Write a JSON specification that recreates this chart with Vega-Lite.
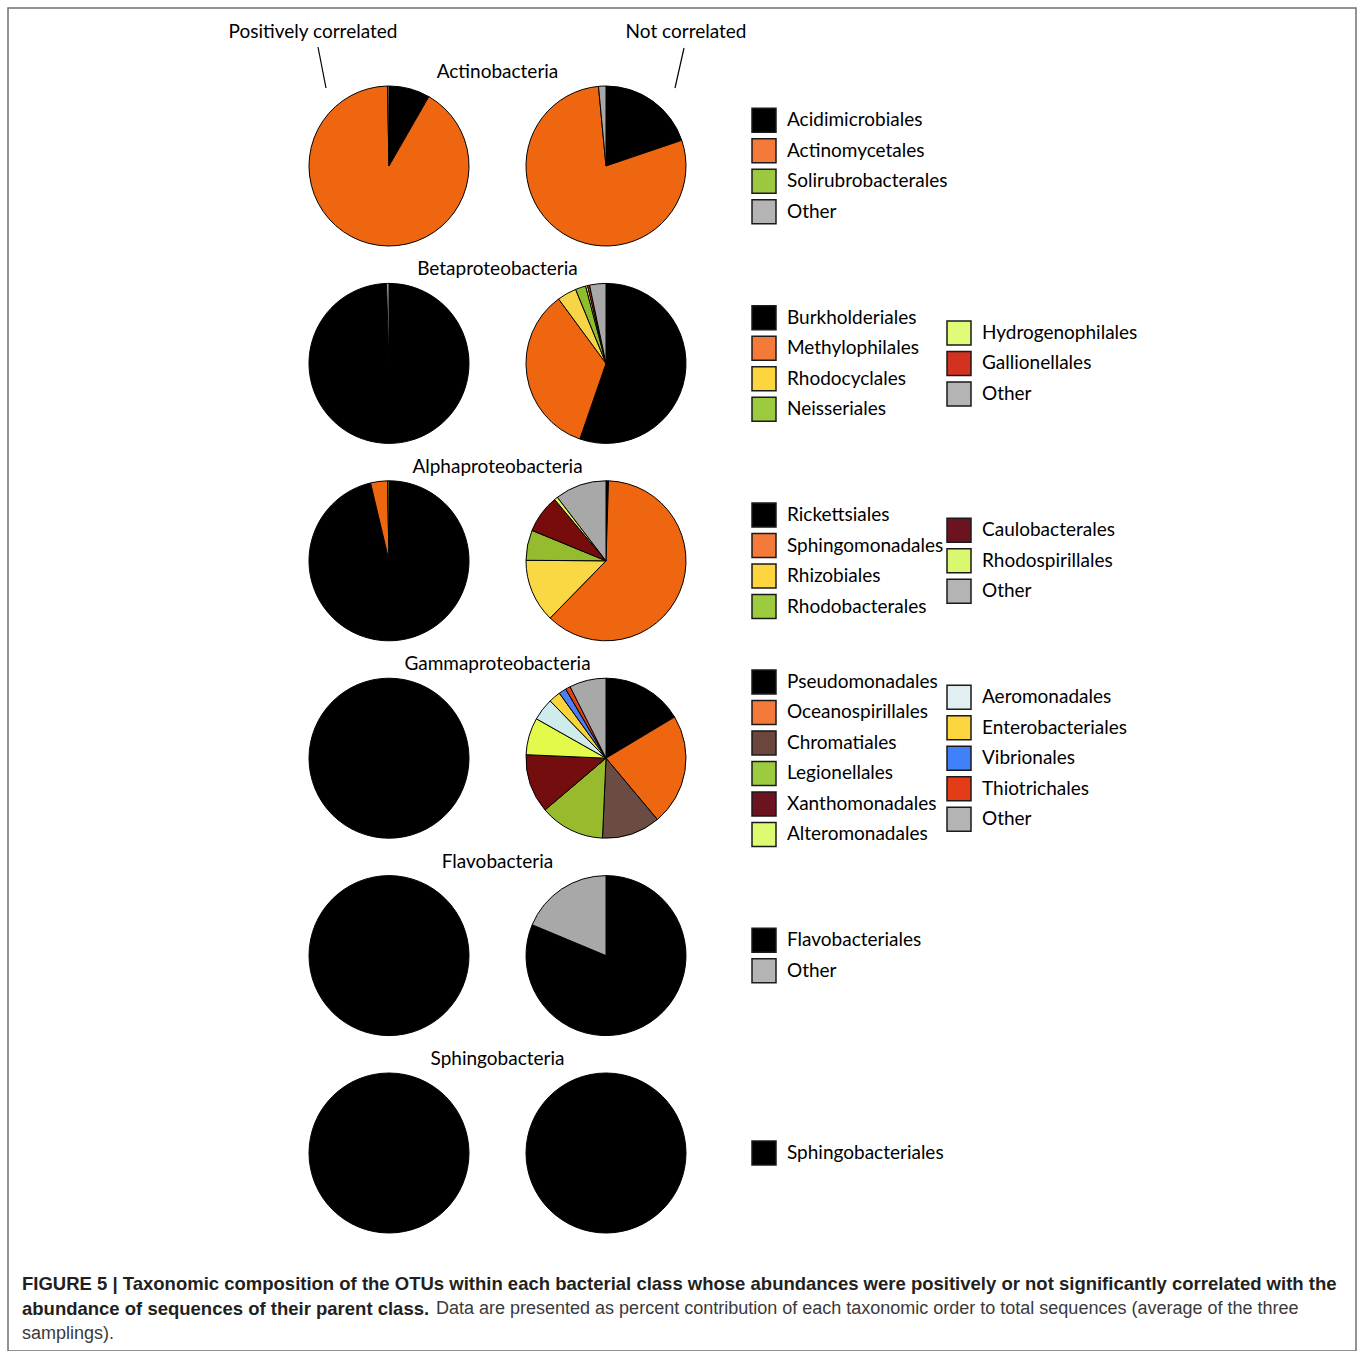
{
  "$schema": "https://vega.github.io/schema/vega-lite/v6.json",
  "width": 1360,
  "height": 1351,
  "autosize": {"type": "fit", "contains": "padding"},
  "padding": {"left": 8, "top": 8, "right": 4, "bottom": 0},
  "background": "white",
  "config": {
    "view": {"stroke": "#707070", "strokeWidth": 1.5},
    "font": "Lato",
    "axis": {"disable": true}
  },
  "datasets": {
    "slices": [
      {"cls": "Actinobacteria", "corr": "Positively correlated", "order": "Acidimicrobiales", "pct": 8.3},
      {"cls": "Actinobacteria", "corr": "Positively correlated", "order": "Actinomycetales", "pct": 91.4},
      {"cls": "Actinobacteria", "corr": "Positively correlated", "order": "Solirubrobacterales", "pct": 0},
      {"cls": "Actinobacteria", "corr": "Positively correlated", "order": "Other", "pct": 0.3},
      {"cls": "Actinobacteria", "corr": "Not correlated", "order": "Acidimicrobiales", "pct": 19.8},
      {"cls": "Actinobacteria", "corr": "Not correlated", "order": "Actinomycetales", "pct": 78.7},
      {"cls": "Actinobacteria", "corr": "Not correlated", "order": "Solirubrobacterales", "pct": 0},
      {"cls": "Actinobacteria", "corr": "Not correlated", "order": "Other", "pct": 1.5},
      {"cls": "Betaproteobacteria", "corr": "Positively correlated", "order": "Burkholderiales", "pct": 99.5},
      {"cls": "Betaproteobacteria", "corr": "Positively correlated", "order": "Other", "pct": 0.5},
      {"cls": "Betaproteobacteria", "corr": "Not correlated", "order": "Burkholderiales", "pct": 55.3},
      {"cls": "Betaproteobacteria", "corr": "Not correlated", "order": "Methylophilales", "pct": 34.6},
      {"cls": "Betaproteobacteria", "corr": "Not correlated", "order": "Rhodocyclales", "pct": 3.9},
      {"cls": "Betaproteobacteria", "corr": "Not correlated", "order": "Neisseriales", "pct": 2.1},
      {"cls": "Betaproteobacteria", "corr": "Not correlated", "order": "Hydrogenophilales", "pct": 0.4},
      {"cls": "Betaproteobacteria", "corr": "Not correlated", "order": "Gallionellales", "pct": 0.4},
      {"cls": "Betaproteobacteria", "corr": "Not correlated", "order": "Other", "pct": 3.3},
      {"cls": "Alphaproteobacteria", "corr": "Positively correlated", "order": "Rickettsiales", "pct": 96.3},
      {"cls": "Alphaproteobacteria", "corr": "Positively correlated", "order": "Sphingomonadales", "pct": 3.4},
      {"cls": "Alphaproteobacteria", "corr": "Positively correlated", "order": "Rhodobacterales", "pct": 0.3},
      {"cls": "Alphaproteobacteria", "corr": "Not correlated", "order": "Rickettsiales", "pct": 0.5},
      {"cls": "Alphaproteobacteria", "corr": "Not correlated", "order": "Sphingomonadales", "pct": 61.8},
      {"cls": "Alphaproteobacteria", "corr": "Not correlated", "order": "Rhizobiales", "pct": 12.8},
      {"cls": "Alphaproteobacteria", "corr": "Not correlated", "order": "Rhodobacterales", "pct": 6.1},
      {"cls": "Alphaproteobacteria", "corr": "Not correlated", "order": "Caulobacterales", "pct": 7.7},
      {"cls": "Alphaproteobacteria", "corr": "Not correlated", "order": "Rhodospirillales", "pct": 0.7},
      {"cls": "Alphaproteobacteria", "corr": "Not correlated", "order": "Other", "pct": 10.4},
      {"cls": "Gammaproteobacteria", "corr": "Positively correlated", "order": "Pseudomonadales", "pct": 100},
      {"cls": "Gammaproteobacteria", "corr": "Not correlated", "order": "Pseudomonadales", "pct": 16.4},
      {"cls": "Gammaproteobacteria", "corr": "Not correlated", "order": "Oceanospirillales", "pct": 22.5},
      {"cls": "Gammaproteobacteria", "corr": "Not correlated", "order": "Chromatiales", "pct": 11.8},
      {"cls": "Gammaproteobacteria", "corr": "Not correlated", "order": "Legionellales", "pct": 13.1},
      {"cls": "Gammaproteobacteria", "corr": "Not correlated", "order": "Xanthomonadales", "pct": 11.9},
      {"cls": "Gammaproteobacteria", "corr": "Not correlated", "order": "Alteromonadales", "pct": 7.5},
      {"cls": "Gammaproteobacteria", "corr": "Not correlated", "order": "Aeromonadales", "pct": 4.5},
      {"cls": "Gammaproteobacteria", "corr": "Not correlated", "order": "Enterobacteriales", "pct": 2.4},
      {"cls": "Gammaproteobacteria", "corr": "Not correlated", "order": "Vibrionales", "pct": 1.5},
      {"cls": "Gammaproteobacteria", "corr": "Not correlated", "order": "Thiotrichales", "pct": 1.0},
      {"cls": "Gammaproteobacteria", "corr": "Not correlated", "order": "Other", "pct": 7.4},
      {"cls": "Flavobacteria", "corr": "Positively correlated", "order": "Flavobacteriales", "pct": 100},
      {"cls": "Flavobacteria", "corr": "Not correlated", "order": "Flavobacteriales", "pct": 81.3},
      {"cls": "Flavobacteria", "corr": "Not correlated", "order": "Other", "pct": 18.7},
      {"cls": "Sphingobacteria", "corr": "Positively correlated", "order": "Sphingobacteriales", "pct": 100},
      {"cls": "Sphingobacteria", "corr": "Not correlated", "order": "Sphingobacteriales", "pct": 100}
    ],
    "classes": [
      {"cls": "Actinobacteria"},
      {"cls": "Betaproteobacteria"},
      {"cls": "Alphaproteobacteria"},
      {"cls": "Gammaproteobacteria"},
      {"cls": "Flavobacteria"},
      {"cls": "Sphingobacteria"}
    ],
    "headers": [
      {"corr": "Positively correlated"},
      {"corr": "Not correlated"}
    ],
    "caption": [
      {"line": 1, "seg": 1, "kind": "heading", "text": "FIGURE 5 | Taxonomic composition of the OTUs within each bacterial class whose abundances were positively or not significantly correlated with the"},
      {"line": 2, "seg": 1, "kind": "heading", "text": "abundance of sequences of their parent class."},
      {"line": 2, "seg": 2, "kind": "body", "text": "Data are presented as percent contribution of each taxonomic order to total sequences (average of the three"},
      {"line": 3, "seg": 1, "kind": "body", "text": "samplings)."}
    ]
  },
  "layer": [
    {
      "layer": [
        {
          "data": {"name": "slices"},
          "transform": [
            {"window": [{"op": "row_number", "as": "k"}], "groupby": ["cls", "corr"]},
            {"filter": "datum.pct > 0"},
            {"stack": "pct", "groupby": ["cls", "corr"], "sort": [{"field": "k", "order": "ascending"}], "as": ["t0", "t1"], "offset": "zero"}
          ],
          "mark": {"type": "arc", "radius": 80, "stroke": "#000000", "strokeWidth": 1},
          "encoding": {
            "x": {"field": "corr", "type": "nominal", "axis": null, "scale": {"type": "point", "padding": 0, "domain": ["Positively correlated", "Not correlated"], "range": [381, 598]}},
            "y": {"field": "cls", "type": "nominal", "axis": null, "scale": {"type": "point", "padding": 0, "domain": ["Actinobacteria", "Betaproteobacteria", "Alphaproteobacteria", "Gammaproteobacteria", "Flavobacteria", "Sphingobacteria"], "range": [158, 1145]}},
            "theta": {"field": "t0", "type": "quantitative", "scale": {"domain": [0, 100]}},
            "theta2": {"field": "t1"},
            "color": {
              "field": "order", "type": "nominal", "legend": null,
              "scale": {
                "domain": ["Acidimicrobiales", "Actinomycetales", "Solirubrobacterales", "Other", "Burkholderiales", "Methylophilales", "Rhodocyclales", "Neisseriales", "Hydrogenophilales", "Gallionellales", "Rickettsiales", "Sphingomonadales", "Rhizobiales", "Rhodobacterales", "Caulobacterales", "Rhodospirillales", "Pseudomonadales", "Oceanospirillales", "Chromatiales", "Legionellales", "Xanthomonadales", "Alteromonadales", "Aeromonadales", "Enterobacteriales", "Vibrionales", "Thiotrichales", "Flavobacteriales", "Sphingobacteriales"],
                "range": ["#000000", "#ee6610", "#9bc43c", "#a8a8a8", "#000000", "#ee6610", "#f8d448", "#8fbd2c", "#e2f76a", "#d63a1e", "#000000", "#ee6610", "#f9d843", "#95bb2f", "#760c0c", "#e2f760", "#000000", "#ee6610", "#6b4c42", "#98bb2e", "#740d0d", "#e3fa4a", "#cfecec", "#f8d43e", "#4d7ef5", "#e5400f", "#000000", "#000000"]
              }
            }
          }
        },
        {
          "data": {"name": "classes"},
          "mark": {"type": "text", "fontSize": 19, "baseline": "middle", "align": "center", "dx": 108.5, "dy": -94, "color": "#000000"},
          "encoding": {
            "x": {"datum": "Positively correlated", "type": "nominal", "axis": null},
            "y": {"field": "cls", "type": "nominal", "axis": null},
            "text": {"field": "cls"}
          }
        },
        {
          "data": {"name": "headers"},
          "transform": [{"filter": "datum.corr === 'Positively correlated'"}],
          "mark": {"type": "text", "fontSize": 19, "baseline": "middle", "align": "center", "dx": -76, "dy": -134, "color": "#000000"},
          "encoding": {
            "x": {"field": "corr", "type": "nominal", "axis": null},
            "y": {"datum": "Actinobacteria", "type": "nominal", "axis": null},
            "text": {"field": "corr"}
          }
        },
        {
          "data": {"name": "headers"},
          "transform": [{"filter": "datum.corr === 'Not correlated'"}],
          "mark": {"type": "text", "fontSize": 19, "baseline": "middle", "align": "center", "dx": 80, "dy": -134, "color": "#000000"},
          "encoding": {
            "x": {"field": "corr", "type": "nominal", "axis": null},
            "y": {"datum": "Actinobacteria", "type": "nominal", "axis": null},
            "text": {"field": "corr"}
          }
        },
        {
          "data": {"name": "headers"},
          "transform": [{"filter": "datum.corr === 'Positively correlated'"}],
          "mark": {"type": "rule", "color": "#000000", "strokeWidth": 1.2, "xOffset": -71, "x2Offset": -63, "yOffset": -119, "y2Offset": -78},
          "encoding": {
            "x": {"field": "corr", "type": "nominal", "axis": null},
            "x2": {"field": "corr"},
            "y": {"datum": "Actinobacteria", "type": "nominal", "axis": null},
            "y2": {"datum": "Actinobacteria"}
          }
        },
        {
          "data": {"name": "headers"},
          "transform": [{"filter": "datum.corr === 'Not correlated'"}],
          "mark": {"type": "rule", "color": "#000000", "strokeWidth": 1.2, "xOffset": 78, "x2Offset": 69, "yOffset": -118, "y2Offset": -78},
          "encoding": {
            "x": {"field": "corr", "type": "nominal", "axis": null},
            "x2": {"field": "corr"},
            "y": {"datum": "Actinobacteria", "type": "nominal", "axis": null},
            "y2": {"datum": "Actinobacteria"}
          }
        }
      ]
    },
    {
      "data": {"name": "slices"},
      "transform": [
        {"filter": "datum.corr === 'Not correlated'"},
        {"window": [{"op": "row_number", "as": "idx"}], "groupby": ["cls"]},
        {"joinaggregate": [{"op": "count", "as": "n"}], "groupby": ["cls"]},
        {"calculate": "datum.n <= 4 ? datum.n : ceil(datum.n / 2)", "as": "half"},
        {"calculate": "datum.idx <= datum.half ? 1 : 2", "as": "col"},
        {"calculate": "datum.col === 1 ? datum.half : datum.n - datum.half", "as": "m"},
        {"calculate": "datum.col === 1 ? datum.idx : datum.idx - datum.half", "as": "j"},
        {"calculate": "datum.j - (datum.m + 1) / 2", "as": "yo"}
      ],
      "encoding": {
        "x": {"field": "col", "type": "ordinal", "axis": null, "scale": {"type": "point", "padding": 0, "domain": [1, 2], "range": [756, 951]}},
        "y": {"field": "cls", "type": "nominal", "axis": null, "scale": {"type": "point", "padding": 0, "domain": ["Actinobacteria", "Betaproteobacteria", "Alphaproteobacteria", "Gammaproteobacteria", "Flavobacteria", "Sphingobacteria"], "range": [158, 1145]}},
        "yOffset": {"field": "yo", "type": "quantitative", "scale": {"domain": [-1, 1], "range": [-30.5, 30.5]}}
      },
      "layer": [
        {
          "mark": {"type": "point", "shape": "square", "size": 576, "filled": true, "opacity": 1, "stroke": "#1a1a1a", "strokeWidth": 1.5},
          "encoding": {
            "color": {
              "field": "order", "type": "nominal", "legend": null,
              "scale": {
                "domain": ["Acidimicrobiales", "Actinomycetales", "Solirubrobacterales", "Other", "Burkholderiales", "Methylophilales", "Rhodocyclales", "Neisseriales", "Hydrogenophilales", "Gallionellales", "Rickettsiales", "Sphingomonadales", "Rhizobiales", "Rhodobacterales", "Caulobacterales", "Rhodospirillales", "Pseudomonadales", "Oceanospirillales", "Chromatiales", "Legionellales", "Xanthomonadales", "Alteromonadales", "Aeromonadales", "Enterobacteriales", "Vibrionales", "Thiotrichales", "Flavobacteriales", "Sphingobacteriales"],
                "range": ["#000000", "#f47a3a", "#9cc840", "#b4b4b4", "#000000", "#f47a3a", "#fdd53f", "#9ccb3f", "#e0fb78", "#d2321f", "#000000", "#f47a3a", "#fdd53f", "#9ccb3f", "#6b1420", "#d9f870", "#000000", "#f47a3a", "#6a463c", "#9ccb3f", "#6b1420", "#dcfb70", "#e1eff3", "#fdd53f", "#4080f8", "#e43c16", "#000000", "#000000"]
              }
            }
          }
        },
        {
          "mark": {"type": "text", "align": "left", "baseline": "middle", "dx": 23, "fontSize": 19, "color": "#000000"},
          "encoding": {"text": {"field": "order"}}
        }
      ]
    },
    {
      "data": {"name": "caption"},
      "encoding": {
        "x": {"field": "seg", "type": "ordinal", "axis": null, "scale": {"type": "point", "padding": 0, "domain": [1, 2], "range": [14, 428]}},
        "y": {"field": "line", "type": "ordinal", "axis": null, "scale": {"type": "point", "padding": 0, "domain": [1, 2, 3], "range": [1276, 1326]}},
        "text": {"field": "text"}
      },
      "layer": [
        {
          "transform": [{"filter": "datum.kind === 'heading'"}],
          "mark": {"type": "text", "align": "left", "baseline": "middle", "font": "Liberation Sans", "fontWeight": "bold", "fontSize": 18.5, "color": "#231f20"}
        },
        {
          "transform": [{"filter": "datum.kind === 'body'"}],
          "mark": {"type": "text", "align": "left", "baseline": "middle", "font": "Liberation Sans", "fontSize": 18, "color": "#3a3a3a"}
        }
      ]
    }
  ],
  "resolve": {"scale": {"x": "independent", "y": "independent", "color": "independent"}}
}
